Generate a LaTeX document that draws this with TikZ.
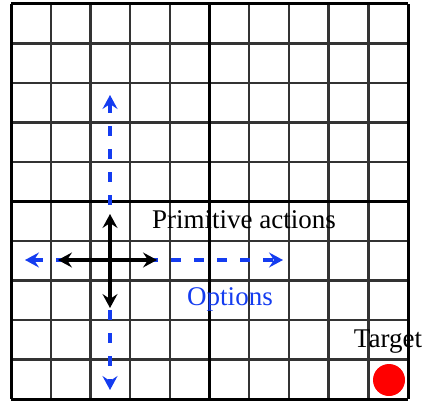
\documentclass[tikz,border=0pt]{standalone}
\usepackage{fontspec}
\setmainfont{Liberation Serif}
\usetikzlibrary{arrows.meta}
\definecolor{optblue}{RGB}{20,60,240}
\begin{document}
\begin{tikzpicture}[x=1pt,y=-1pt,
  thinline/.style={line width=2.4pt,black!80},
  thickline/.style={line width=3pt,black},
  primarrow/.style={line width=4pt,black,{Stealth[length=14pt,width=15pt,inset=5pt]}-{Stealth[length=14pt,width=15pt,inset=5pt]}},
  optarrow/.style={line width=4.5pt,optblue,dash pattern=on 10pt off 13pt,{Stealth[length=14pt,width=15pt,inset=5pt]}-{Stealth[length=14pt,width=15pt,inset=5pt]}},
  lbl/.style={font=\fontsize{27}{30}\selectfont,inner sep=0pt}]
\useasboundingbox (0,0) rectangle (425,403);
\fill[white] (0,0) rectangle (425,403);
\foreach \k in {1,2,3,4,6,7,8,9} {
  \draw[thinline] ({11+39.7*\k},4) -- ({11+39.7*\k},399);
  \draw[thinline] (11,{4+39.5*\k}) -- (408,{4+39.5*\k});
}
\foreach \k in {0,5,10} {
  \draw[thickline] ({11+39.7*\k},4) -- ({11+39.7*\k},399);
  \draw[thickline] (11,{4+39.5*\k}) -- (408,{4+39.5*\k});
}
\coordinate (oL) at (25,260);
\coordinate (oR) at (283,260);
\coordinate (oT) at (110,95);
\coordinate (oB) at (110,390);
\coordinate (pL) at (58,260);
\coordinate (pR) at (157,260);
\coordinate (pT) at (110,214);
\coordinate (pB) at (110,308);
\draw[optarrow] (oL) -- (oR);
\draw[optarrow] (oT) -- (oB);
\draw[primarrow] (pL) -- (pR);
\draw[primarrow] (pT) -- (pB);
\node[lbl] (prim) at (244,220) {Primitive actions};
\node[lbl,text=optblue] (opt) at (230,299) {Options};
\node[lbl] (tgtlbl) at (388,342) {Target};
\fill[red] (389,380) circle (16);
\end{tikzpicture}
\end{document}
